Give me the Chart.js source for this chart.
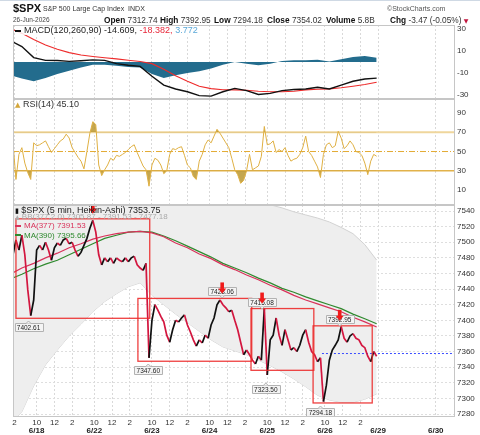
<!DOCTYPE html>
<html><head><meta charset="utf-8">
<title>$SPX 5 min Heikin-Ashi</title>
<script src="https://cdn.jsdelivr.net/npm/chart.js@4.4.1/dist/chart.umd.min.js"></script>
<style>
html,body{margin:0;padding:0;background:#fff}
body{position:relative;width:480px;height:435px;overflow:hidden;font-family:"Liberation Sans",Arial,sans-serif;color:#222}
canvas{position:absolute;left:0}
.t{position:absolute;white-space:nowrap;z-index:5;line-height:1}
.b{font-weight:bold;color:#111}
.ic{display:inline-block;vertical-align:middle;margin-right:3px}
</style></head><body>
<canvas id="cMacd" width="480" height="74" style="top:25px"></canvas>
<canvas id="cRsi" width="480" height="106" style="top:99px"></canvas>
<canvas id="cMain" width="480" height="230" style="top:205px"></canvas>

<div style="position:absolute;left:0;top:0;width:480px;height:1px;background:#cfd9e4"></div>
<div class="t" style="left:13px;top:2.5px;font-size:11px;font-weight:bold;color:#111">$SPX</div>
<div class="t" style="left:43px;top:5px;font-size:7px;color:#333">S&amp;P 500 Large Cap Index&nbsp; INDX</div>
<div class="t" style="left:387px;top:5px;font-size:7px;color:#555">©StockCharts.com</div>
<div class="t" style="left:13px;top:16.5px;font-size:6.5px;color:#444">26-Jun-2026</div>
<div class="t" style="left:104px;top:16px;font-size:8.3px;color:#333"><span class="b">Open</span> 7312.74</div>
<div class="t" style="left:160px;top:16px;font-size:8.3px;color:#333"><span class="b">High</span> 7392.95</div>
<div class="t" style="left:214px;top:16px;font-size:8.3px;color:#333"><span class="b">Low</span> 7294.18</div>
<div class="t" style="left:267px;top:16px;font-size:8.3px;color:#333"><span class="b">Close</span> 7354.02</div>
<div class="t" style="left:326px;top:16px;font-size:8.3px;color:#333"><span class="b">Volume</span> 5.8B</div>
<div class="t" style="left:390px;top:16px;font-size:8.3px;color:#333"><span class="b">Chg</span> -3.47 (-0.05%) <span style="color:#c0143c;font-size:6px;font-family:'DejaVu Sans'">▼</span></div>

<div class="t" style="left:15px;top:26px;font-size:9px;color:#222;background:rgba(255,255,255,0.85)"><span class="ic" style="width:6px;height:2px;background:#111"></span>MACD(120,260,90) -14.609, <span style="color:#e8283a">-18.382,</span> <span style="color:#5aa8d8">3.772</span></div>
<div class="t" style="left:15px;top:100px;font-size:9px;color:#333"><span style="color:#d4a63a;font-family:'DejaVu Sans';font-size:7px">▲</span> RSI(14) 45.10</div>

<div class="t" style="left:15px;top:205.5px;font-size:9px;color:#222"><span style="font-family:'DejaVu Sans';font-size:7px;color:#111">▮</span> $SPX (5 min, Heikin-Ashi) 7353.75</div>
<div class="t" style="left:15px;top:213px;font-size:8px;color:#aaa"><span style="font-family:'DejaVu Sans';font-size:6px">▲</span> BB(377,2.0) 7305.87 - 7391.53 - 7477.18</div>
<div class="t" style="left:15px;top:222px;font-size:8px;color:#d8325a"><span class="ic" style="width:6px;height:2px;background:#d8325a"></span>MA(377) 7391.53</div>
<div class="t" style="left:15px;top:231.5px;font-size:8px;color:#2f8a2f"><span class="ic" style="width:6px;height:2px;background:#2f8a2f"></span>MA(390) 7395.66</div>

<script>
// ---------------- data (x positions are 5-minute bar numbers counted from 17-Jun 09:30) ----------------
const timeTickPos  = [54, 84, 108, 132, 162, 186, 210, 240, 264, 288, 318, 342, 366, 396, 420, 444, 474, 498, 522, 546, 624];
const timeTickText = ['2','10','12','2','10','12','2','10','12','2','10','12','2','10','12','2','10','12','2','',''];
const dateTickPos  = [84, 162, 240, 318, 396, 474, 546, 624];
const dateTickText = ['6/18','6/22','6/23','6/24','6/25','6/26','6/29','6/30'];

const barStart = 52, barStep = 4;      // sampled Heikin-Ashi closes & RSI
const closePrice = [
 7484,7503,7490,7509,7484,7439,7406,7426,7490,7496,
 7490,7500,7490,7477,7493,7499,7496,7503,7505,7498,
 7500,7490,7482,7487,7496,7505,7518,7528,7513,7484,
 7471,7480,7475,7480,7473,7480,7477,7475,7480,7475,
 7480,7482,7471,7467,7464,7473,7352,7400,7420,7413,
 7405,
 7398,7381,7372,7388,7400,7398,7403,7407,7394,7385,
 7375,7367,7375,7371,7381,7377,7394,7403,7420,7426,
 7420,7416,7411,7413,7400,7388,7372,7356,7362,7356,
 7349,7344,7354,7349,7415,7330,7375,7381,7403,7381,
 7368,7388,7375,7362,7365,7360,7368,7381,7388,7372,
 7360,7356,7347,7352,7296,7317,7349,7362,7368,7375,
 7392,7377,7372,7380,7383,7377,7375,7368,7365,7354,
 7347,7360,7354];
const rsi14 = [
 59,21,47,54,38,28,21,59,56,57,
 59,61,55,49,53,57,61,63,68,64,
 54,49,44,40,32,50,69,81,78,36,
 25,31,36,43,41,46,45,47,49,52,
 55,57,49,42,35,31,14,36,43,41,
 36,27,30,47,53,52,54,55,46,36,
 33,24,21,40,47,57,62,59,66,73,
 69,64,59,54,43,31,26,17,20,30,
 47,31,33,35,45,76,57,58,61,49,
 52,50,54,46,40,42,43,47,54,66,
 50,46,40,34,23,47,57,59,54,56,
 71,64,53,56,61,57,50,49,46,38,
 26,40,47,45.1];

const slowStart = 48, slowStep = 16;   // smooth series sampled every 16 bars
const ma377  = [7459,7467,7473,7480,7486,7493,7498,7504,7508,7511,7513,7514,7512,7507,7499,7493,7485,7479,7471,7465,7458,7452,7445,7439,7432,7426,7421,7416,7411,7404,7398,7391.53];
const ma390  = [7453,7459,7466,7472,7477,7484,7491,7498,7505,7509,7513,7514,7513,7508,7502,7495,7488,7481,7473,7467,7461,7454,7448,7441,7436,7430,7425,7420,7415,7408,7402,7395.66];
const bbUpper= [7652,7651,7630,7617,7610,7606,7601,7597,7592,7588,7583,7580,7592,7594,7590,7589,7584,7583,7576,7569,7560,7555,7548,7544,7539,7535,7531,7526,7519,7511,7497,7477.18];
const bbLower= [7266,7283,7316,7343,7362,7380,7395,7411,7424,7434,7443,7448,7432,7420,7408,7397,7386,7375,7366,7361,7356,7349,7342,7334,7325,7315,7304,7298,7295,7295,7299,7305.87];
const macdLine   = [19.5,14,4,1.5,1.3,0.6,1.2,1.9,1.5,-1.5,-3,-4,-13,-21,-24.5,-27,-30.5,-31,-27,-24,-26,-29.5,-28.5,-26,-25,-24.5,-23,-24.5,-21,-17.5,-15.5,-14.609];
const macdSignal = [30.5,26,20.5,15.5,11.5,8.5,6.3,5,3.8,2.8,1.6,0.5,-1.5,-6.5,-12.5,-17.5,-22,-24.2,-25.2,-25.3,-25.7,-26.5,-27,-27,-26.5,-25.3,-24.7,-24.4,-23.4,-22,-20.5,-18.382];
const macdHist   = [-12,-15,-17.5,-14.5,-11,-8,-5,-2.5,-2.5,-3.5,-4.5,-5,-11,-14.5,-12,-10,-8.5,-6,-2.5,0,-1.5,-3,-1.5,1,1.5,1.5,2,0.5,2.5,4.5,5.5,3.772];

const priceTicks = [7540,7520,7500,7480,7460,7440,7420,7400,7380,7360,7340,7320,7300,7280];
const rsiTicks   = [90,70,50,30,10];
const macdTicks  = [30,20,10,0,-10,-20,-30];
const rsiLevels  = [70,50,30];

const boxFrom = [56,221,374,458], boxTo = [237,375,459,538];
const boxHigh = [7530,7428.06,7415.08,7392.95], boxLow = [7402.61,7347.60,7336,7294.18];
const peakBar = [160,335,389,494], peakVal = [7530,7428.06,7415.08,7392.95], peakTag = [false,true,true,true];
const troughBar = [73,235,394,468], troughVal = [7402.61,7347.60,7323.50,7294.18];
const prevClose = 7357.49, prevCloseFrom = 470;

// ---------------- chart setup ----------------
const FONT = '"Liberation Sans", Arial, sans-serif';
Chart.defaults.font.family = FONT;
const X_MIN = 52, X_MAX = 650;
const pts = (arr, start, step) => arr.map((v, k) => ({x: start + step * k, y: v}));
const level = (v, from) => [{x: from === undefined ? X_MIN : from, y: v}, {x: X_MAX, y: v}];

const gridX = () => ({
  type: 'linear', min: X_MIN, max: X_MAX,
  afterBuildTicks: s => { s.ticks = timeTickPos.map(v => ({value: v})); },
  afterFit: s => { s.height = 0; s.paddingLeft = 0; s.paddingRight = 0; },
  ticks: {display: false, autoSkip: false},
  grid: {color: '#d9d9d9', drawTicks: false},
  border: {display: false, dash: [2, 2]}
});
const rightY = (min, max, vals, showGrid) => ({
  position: 'right', min, max,
  afterBuildTicks: s => { s.ticks = vals.map(v => ({value: v})); },
  afterFit: s => { s.width = 25; s.paddingTop = 0; s.paddingBottom = 0; },
  ticks: {padding: 2, color: '#333', font: {size: 8}, callback: v => String(v)},
  grid: {display: showGrid, color: '#dedede', drawTicks: false},
  border: {display: false, dash: [2, 2]}
});
const frame = {id: 'frame', afterDraw(c) {
  const a = c.chartArea, ctx = c.ctx;
  ctx.save(); ctx.strokeStyle = '#c6c6c6'; ctx.lineWidth = 1;
  ctx.strokeRect(Math.round(a.left) + 0.5, Math.round(a.top) + 0.5, Math.round(a.right - a.left) - 1, Math.round(a.bottom - a.top) - 1);
  ctx.restore();
}};
const baseOpts = scales => ({
  responsive: false, animation: false, events: [],
  layout: {padding: {left: 13, right: 0, top: 0, bottom: 0}},
  plugins: {legend: {display: false}, tooltip: {enabled: false}},
  elements: {point: {radius: 0}, line: {tension: 0}},
  scales
});

// MACD panel
new Chart(document.getElementById('cMacd'), {
  type: 'line',
  data: {datasets: [
    {data: pts(macdLine, slowStart, slowStep), borderColor: '#111', borderWidth: 1.4, order: 0},
    {data: pts(macdSignal, slowStart, slowStep), borderColor: '#ee2b2b', borderWidth: 1.1, order: 1},
    {data: pts(macdHist, slowStart, slowStep), borderWidth: 0, borderColor: 'rgba(0,0,0,0)', backgroundColor: '#236c8d', fill: 'origin', order: 2}
  ]},
  options: baseOpts({x: gridX(), y: rightY(-33.6, 33.6, macdTicks, false)}),
  plugins: [frame]
});

// RSI panel
const GOLD_FILL = 'rgba(186,150,48,0.85)';
new Chart(document.getElementById('cRsi'), {
  type: 'line',
  data: {datasets: [
    {data: pts(rsi14, barStart, barStep), borderColor: '#dfb043', borderWidth: 1, order: 0,
     fill: {target: {value: rsiLevels[0]}, above: GOLD_FILL, below: 'rgba(0,0,0,0)'}},
    {data: pts(rsi14, barStart, barStep), borderColor: 'rgba(0,0,0,0)', borderWidth: 0, order: 1,
     fill: {target: {value: rsiLevels[2]}, above: 'rgba(0,0,0,0)', below: GOLD_FILL}},
    {data: level(rsiLevels[0]), borderColor: '#efd69c', borderWidth: 2, order: 2},
    {data: level(rsiLevels[1]), borderColor: '#e3ab34', borderWidth: 1, borderDash: [6, 2, 1, 2], order: 2},
    {data: level(rsiLevels[2]), borderColor: '#e2b24a', borderWidth: 1.4, order: 2}
  ]},
  options: baseOpts({x: gridX(), y: rightY(-5.5, 104.5, rsiTicks, false)}),
  plugins: [frame]
});

// price panel helpers
function tag(ctx, x, y, text, above) {
  ctx.font = '6.5px ' + FONT;
  const w = Math.round(ctx.measureText(text).width) + 5, h = 8;
  const top = Math.round(above ? y - 3 - h : y + 5) + 0.5;
  const left = Math.round(x - w / 2) + 0.5;
  ctx.fillStyle = '#f4f4f4'; ctx.strokeStyle = '#b2b2b2'; ctx.lineWidth = 1;
  ctx.beginPath(); ctx.rect(left, top, w, h); ctx.fill(); ctx.stroke();
  ctx.beginPath();
  if (above) { ctx.moveTo(x - 2.5, top + h); ctx.lineTo(x, top + h + 2.5); ctx.lineTo(x + 2.5, top + h); }
  else { ctx.moveTo(x - 2.5, top); ctx.lineTo(x, top - 2.5); ctx.lineTo(x + 2.5, top); }
  ctx.fill(); ctx.stroke();
  ctx.fillStyle = '#222'; ctx.textAlign = 'center'; ctx.textBaseline = 'middle';
  ctx.fillText(text, x, top + h / 2 + 0.3);
}
function arrow(ctx, x, tipY) {
  ctx.fillStyle = '#f01a1a';
  ctx.beginPath();
  ctx.moveTo(x - 4, tipY - 5); ctx.lineTo(x + 4, tipY - 5); ctx.lineTo(x, tipY); ctx.closePath(); ctx.fill();
  ctx.fillRect(x - 1.8, tipY - 11, 3.6, 6.5);
}
const marks = {id: 'marks', afterDatasetsDraw(c) {
  const {ctx, chartArea: a} = c, sx = c.scales.x, sy = c.scales.y;
  const X = v => sx.getPixelForValue(v), Y = v => sy.getPixelForValue(v);
  ctx.save();
  ctx.beginPath(); ctx.rect(a.left, a.top, a.right - a.left, a.bottom - a.top); ctx.clip();
  ctx.strokeStyle = 'rgba(236,42,42,0.9)'; ctx.lineWidth = 1.3;
  boxFrom.forEach((f, i) => {
    const x0 = X(f), x1 = X(boxTo[i]), y0 = Y(boxHigh[i]), y1 = Y(boxLow[i]);
    ctx.strokeRect(x0, y0, x1 - x0, y1 - y0);
  });
  troughBar.forEach((b, i) => tag(ctx, X(b), Y(troughVal[i]), troughVal[i].toFixed(2), false));
  peakBar.forEach((b, i) => { if (peakTag[i]) tag(ctx, X(b), Y(peakVal[i]), peakVal[i].toFixed(2), true); });
  ctx.restore();
  ctx.save();
  peakBar.forEach((b, i) => arrow(ctx, X(b), Y(peakVal[i]) - 5));
  ctx.restore();
}};

// price panel
new Chart(document.getElementById('cMain'), {
  type: 'line',
  data: {datasets: [
    {data: pts(closePrice, barStart, barStep), borderWidth: 1.7, order: 0, borderColor: '#111',
     segment: {borderColor: s => s.p1.parsed.y >= s.p0.parsed.y ? '#111' : '#d3163f'}},
    {data: pts(ma377, slowStart, slowStep), borderColor: '#d8325a', borderWidth: 1.2, order: 1},
    {data: pts(ma390, slowStart, slowStep), borderColor: '#2f8a2f', borderWidth: 1.2, order: 2},
    {data: pts(bbUpper, slowStart, slowStep), borderColor: '#d2d2d2', borderWidth: 1, order: 4, fill: 4, backgroundColor: '#eeeeee'},
    {data: pts(bbLower, slowStart, slowStep), borderColor: '#d2d2d2', borderWidth: 1, order: 5},
    {data: level(prevClose, prevCloseFrom), borderColor: '#3a4cff', borderWidth: 1, borderDash: [2, 2], order: 3}
  ]},
  options: baseOpts({
    x: {
      type: 'linear', min: X_MIN, max: X_MAX, position: 'bottom', weight: 0,
      afterBuildTicks: s => { s.ticks = timeTickPos.map(v => ({value: v})); },
      afterFit: s => { s.height = 8.5; s.paddingLeft = 0; s.paddingRight = 0; },
      ticks: {autoSkip: false, maxRotation: 0, minRotation: 0, padding: 1, color: '#333', font: {size: 8},
              callback: (v, i) => timeTickText[i]},
      grid: {color: '#d9d9d9', drawTicks: false},
      border: {display: false, dash: [2, 2]}
    },
    x2: {
      type: 'linear', min: X_MIN, max: X_MAX, position: 'bottom', weight: 1,
      afterBuildTicks: s => { s.ticks = dateTickPos.map(v => ({value: v})); },
      afterFit: s => { s.height = 9.5; s.paddingLeft = 0; s.paddingRight = 0; },
      ticks: {autoSkip: false, maxRotation: 0, minRotation: 0, padding: 0.5, color: '#222', font: {size: 8, weight: 'bold'},
              callback: (v, i) => dateTickText[i]},
      grid: {display: false, drawTicks: false},
      border: {display: false}
    },
    y: rightY(7276.2, 7547.7, priceTicks, true)
  }),
  plugins: [frame, marks]
});
</script>
</body></html>
